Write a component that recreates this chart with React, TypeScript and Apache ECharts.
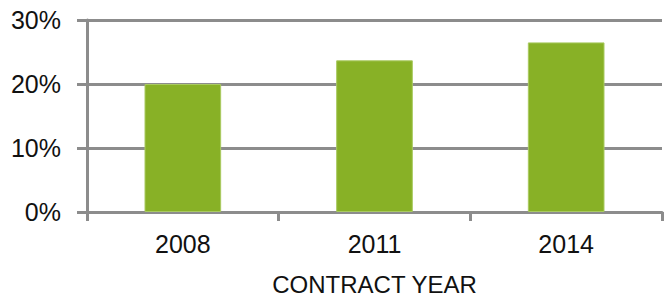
import React, { useEffect, useRef } from "react";
import * as echarts from "echarts";

const categories = ["2008", "2011", "2014"];
const shares = [20.0, 23.7, 26.5];
const yTicks = [0, 10, 20, 30];
const axisTitle = "CONTRACT YEAR";

export default function App() {
  const ref = useRef<HTMLDivElement>(null);
  useEffect(() => {
    if (!ref.current) return;
    const chart = echarts.init(ref.current, undefined, { renderer: "svg" });
    const gray = "#8c8c8c";
    const font = "'Liberation Sans', Arial, sans-serif";
    chart.setOption({
      animation: false,
      grid: { left: 87, right: 7, top: 20, bottom: 85, containLabel: false, outerBoundsMode: "none" },
      xAxis: {
        type: "category",
        data: categories,
        name: axisTitle,
        nameLocation: "middle",
        nameGap: 60,
        nameMoveOverlap: false,
        nameTextStyle: { color: "#111", fontSize: 24, fontFamily: font, lineHeight: 24 },
        axisLine: { show: true, lineStyle: { color: gray, width: 3 } },
        axisTick: { show: true, alignWithLabel: false, length: 9, lineStyle: { color: gray, width: 3 } },
        axisLabel: { color: "#111", fontSize: 25, fontFamily: font, margin: 19 },
      },
      yAxis: {
        type: "value",
        min: yTicks[0],
        max: yTicks[yTicks.length - 1],
        interval: 10,
        axisLine: { show: true, lineStyle: { color: gray, width: 3 } },
        axisTick: { show: true, length: 10, lineStyle: { color: gray, width: 3 } },
        splitLine: { show: true, lineStyle: { color: gray, width: 3 } },
        axisLabel: {
          color: "#111",
          fontSize: 25,
          fontFamily: font,
          margin: 26,
          formatter: (v: number) => `${v}%`,
        },
      },
      series: [
        {
          type: "bar",
          data: shares,
          barWidth: "40%",
          itemStyle: { color: "#88b126", borderColor: "#a9ca60", borderWidth: 1 },
        },
      ],
    });
    return () => chart.dispose();
  }, []);
  return (
    <div
      ref={ref}
      style={{ position: "absolute", left: 0, top: 0, width: 669, height: 297 }}
    />
  );
}
